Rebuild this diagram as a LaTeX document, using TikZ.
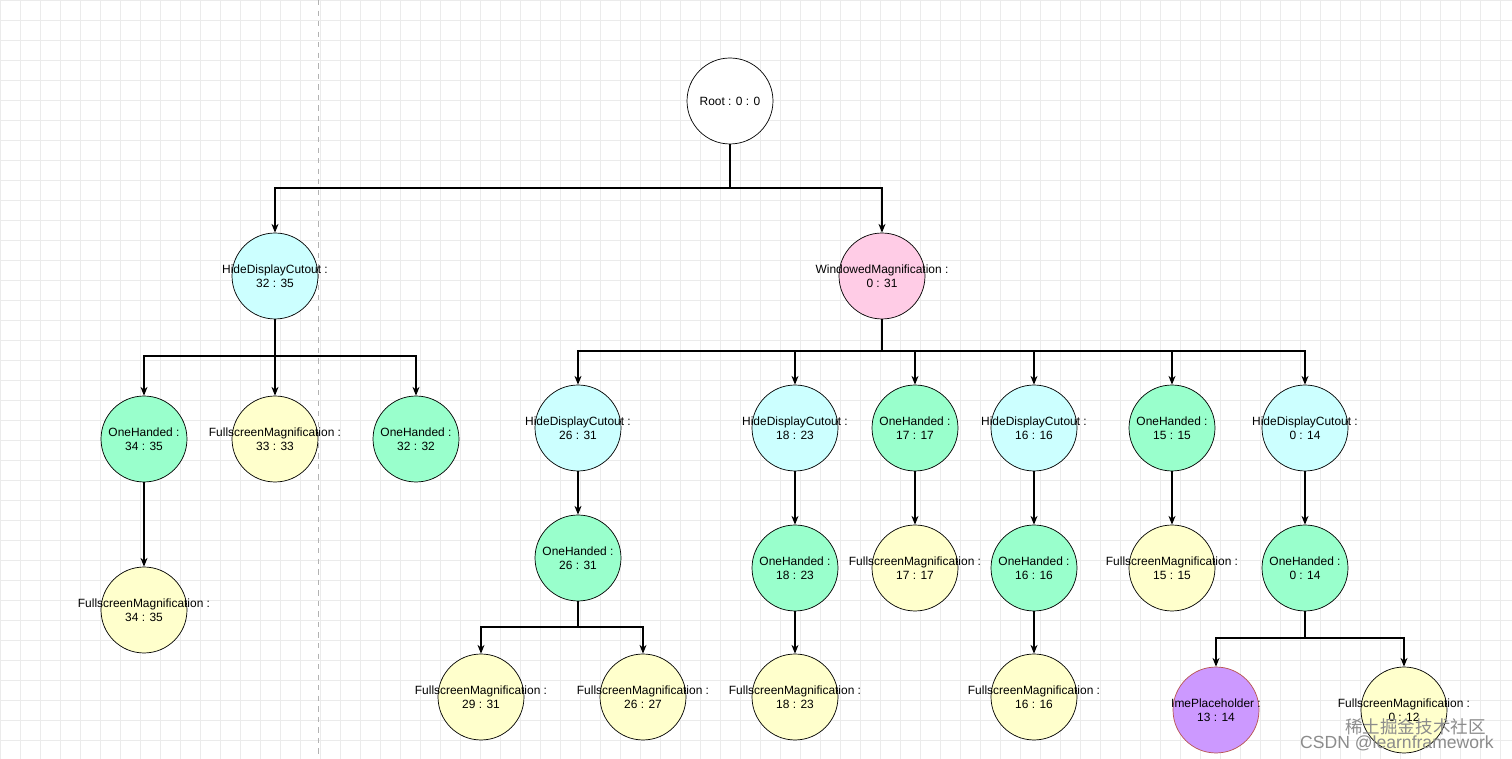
\documentclass[tikz,border=0pt]{standalone}
\usepackage{fontspec}
\setmainfont{Liberation Sans}
\newfontfamily\cjkf{Noto Sans CJK SC}
\usetikzlibrary{arrows.meta}
\definecolor{cy}{HTML}{CCFFFF}
\definecolor{pk}{HTML}{FFCCE6}
\definecolor{gr}{HTML}{99FFCC}
\definecolor{yl}{HTML}{FFFFCC}
\definecolor{pu}{HTML}{CC99FF}
\begin{document}
\begin{tikzpicture}[x=0.02cm,y=-0.02cm,
  c/.style={circle,draw=black,minimum size=1.72cm,inner sep=0pt},
  lbl/.style={align=center,inner sep=0pt,font=\fontsize{6.8}{8}\selectfont},
  arr/.style={-{Stealth[length=5pt,width=4pt]},line width=0.7pt,black}]
\fill[white] (0,0) rectangle (1512,759);
\useasboundingbox (0,0) rectangle (1512,759);
\foreach \x in {0,20,...,1500} \draw[black!8] (\x,0) -- (\x,759);
\foreach \y in {0,20,...,740} \draw[black!8] (0,\y) -- (1512,\y);
\draw[black!30,dashed] (318,0) -- (318,759);
\newcommand{\nd}[5]{\node[c,fill=#4,#5] (#1) at (#2) {}; \node[lbl] (#1t) at (#1) {#3};}
\nd{root}{730,101}{Root : 0 : 0}{white}{}
\nd{h1}{275,276}{HideDisplayCutout :\\32 : 35}{cy}{}
\nd{wm}{882,276}{WindowedMagnification :\\0 : 31}{pk}{}
\nd{o1}{144,439}{OneHanded :\\34 : 35}{gr}{}
\nd{f1}{275,439}{FullscreenMagnification :\\33 : 33}{yl}{}
\nd{o2}{416,439}{OneHanded :\\32 : 32}{gr}{}
\nd{f2}{144,610}{FullscreenMagnification :\\34 : 35}{yl}{}
\nd{h2}{578,428}{HideDisplayCutout :\\26 : 31}{cy}{}
\nd{o3}{578,558}{OneHanded :\\26 : 31}{gr}{}
\nd{f3}{481,697}{FullscreenMagnification :\\29 : 31}{yl}{}
\nd{f4}{643,697}{FullscreenMagnification :\\26 : 27}{yl}{}
\nd{h3}{795,428}{HideDisplayCutout :\\18 : 23}{cy}{}
\nd{o4}{795,568}{OneHanded :\\18 : 23}{gr}{}
\nd{f5}{795,697}{FullscreenMagnification :\\18 : 23}{yl}{}
\nd{o5}{915,428}{OneHanded :\\17 : 17}{gr}{}
\nd{f6}{915,568}{FullscreenMagnification :\\17 : 17}{yl}{}
\nd{h4}{1034,428}{HideDisplayCutout :\\16 : 16}{cy}{}
\nd{o6}{1034,568}{OneHanded :\\16 : 16}{gr}{}
\nd{f7}{1034,697}{FullscreenMagnification :\\16 : 16}{yl}{}
\nd{o7}{1172,428}{OneHanded :\\15 : 15}{gr}{}
\nd{f8}{1172,568}{FullscreenMagnification :\\15 : 15}{yl}{}
\nd{h5}{1305,428}{HideDisplayCutout :\\0 : 14}{cy}{}
\nd{o8}{1305,568}{OneHanded :\\0 : 14}{gr}{}
\nd{ime}{1216,710}{ImePlaceholder :\\13 : 14}{pu}{draw={rgb,255:red,184;green,84;blue,80}}
\nd{f9}{1404,710}{FullscreenMagnification :\\0 : 12}{yl}{}
\foreach \t in {h1,wm} \draw[arr] (root.south) -- (root.south |- 0,188) -| (\t.north);
\foreach \t in {o1,f1,o2} \draw[arr] (h1.south) -- (h1.south |- 0,356) -| (\t.north);
\foreach \t in {h2,h3,o5,h4,o7,h5} \draw[arr] (wm.south) -- (wm.south |- 0,351) -| (\t.north);
\foreach \t in {f3,f4} \draw[arr] (o3.south) -- (o3.south |- 0,627) -| (\t.north);
\foreach \t in {ime,f9} \draw[arr] (o8.south) -- (o8.south |- 0,638) -| (\t.north);
\draw[arr] (o1) -- (f2);
\draw[arr] (h2) -- (o3);
\draw[arr] (h3) -- (o4);
\draw[arr] (o4) -- (f5);
\draw[arr] (o5) -- (f6);
\draw[arr] (h4) -- (o6);
\draw[arr] (o6) -- (f7);
\draw[arr] (o7) -- (f8);
\draw[arr] (h5) -- (o8);
\node[anchor=east,text=black!45,font=\cjkf\fontsize{10}{12}\selectfont] (wm1) at (1492,727) {稀土掘金技术社区};
\node[anchor=east,text=black!45,font=\fontsize{10}{12}\selectfont] (wm2) at (1500,743) {CSDN @learnframework};
\end{tikzpicture}
\end{document}
